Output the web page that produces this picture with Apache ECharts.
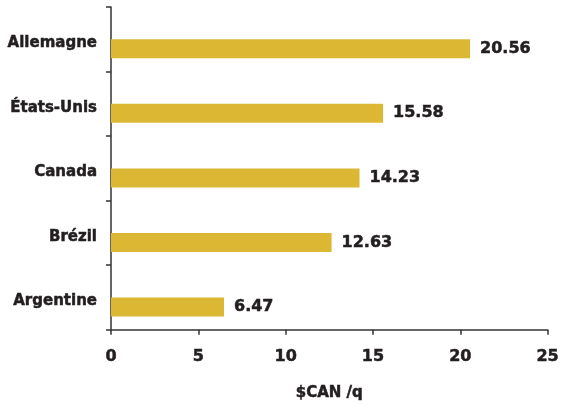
<!DOCTYPE html>
<html><head><meta charset="utf-8">
<script src="https://cdn.jsdelivr.net/npm/echarts@6/dist/echarts.min.js"></script>
<style>html,body{margin:0;padding:0;background:#fff}#c{width:562px;height:406px}</style>
</head><body><div id="c"></div>
<script>
var categories = ['Allemagne', 'États-Unis', 'Canada', 'Brézil', 'Argentine'];
var values = [20.56, 15.58, 14.23, 12.63, 6.47];
var xTicks = [0, 5, 10, 15, 20, 25];
var axisTitle = '$CAN /q';

var font = 'DejaVu Sans';
var txt = '#231f20';
var heavy = { fontFamily: font, fontWeight: 'bold', color: txt, textBorderColor: txt, textBorderWidth: 0.5 };
function st(extra) { return Object.assign({}, heavy, extra); }
var chart = echarts.init(document.getElementById('c'));
chart.setOption({
  animation: false,
  grid: { left: 111, right: 11, top: 7, bottom: 74 },
  xAxis: {
    type: 'value', min: xTicks[0], max: xTicks[xTicks.length - 1], interval: 5,
    name: axisTitle, nameLocation: 'middle', nameGap: 56,
    nameTextStyle: st({ fontSize: 15 }),
    axisLine: { show: true, lineStyle: { color: '#333', width: 1.5 } },
    axisTick: { show: true, length: 5, lineStyle: { color: '#333', width: 1.5 } },
    splitLine: { show: false },
    axisLabel: st({ margin: 19, fontSize: 16 })
  },
  yAxis: {
    type: 'category', data: categories, inverse: true,
    axisLine: { show: true, lineStyle: { color: '#333', width: 1.5 } },
    axisTick: { show: true, length: 5, lineStyle: { color: '#333', width: 1.5 } },
    axisLabel: st({ margin: 14, fontSize: 15,
      formatter: function (v) { return '{a|' + v + '}'; },
      rich: { a: st({ fontSize: 15, padding: [8, 0, 0, 0] }) } })
  },
  series: [
    { type: 'bar', data: categories.map(function () { return null; }), barWidth: 19, barGap: '0%', silent: true },
    {
      type: 'bar', data: values, barWidth: 19, barGap: '0%',
      itemStyle: { color: '#dbb733' },
      label: st({ show: true, position: 'right', distance: 10, fontSize: 16,
        formatter: function (p) { return p.value.toFixed(2); } })
    }
  ]
});
</script></body></html>
